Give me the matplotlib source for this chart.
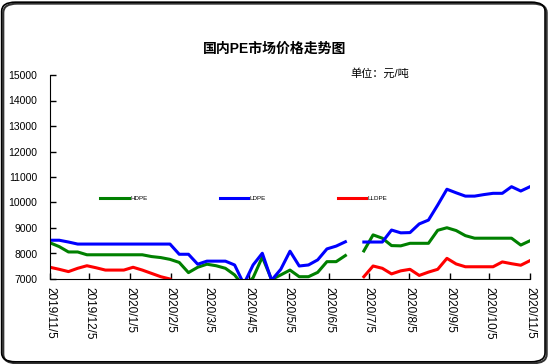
import numpy as np
import pandas as pd
import matplotlib
matplotlib.use("Agg")
import matplotlib.pyplot as plt
import matplotlib.dates as mdates
from matplotlib.patches import FancyBboxPatch

plt.rcParams['font.family'] = ['Liberation Sans', 'Noto Sans CJK SC', 'DejaVu Sans']

nan = np.nan
# weekly prices, 2019/11/5 - 2020/11/5 (yuan/ton)
hdpe = [8420, 8270, 8060, 8060, 7950, 7950, 7950, 7950, 7950, 7950, 7950, 7880, 7840, 7770,
        7650, 7250, 7460, 7580, 7520, 7420, 7160, 6700, 7050, 7860, 6980, 7160, 7350, 7090,
        7090, 7260, 7680, 7680, 7920, nan, 8100, 8730, 8600, 8310, 8300, 8400, 8400, 8400,
        8910, 9010, 8900, 8700, 8600, 8600, 8600, 8600, 8600, 8330, 8500]
ldpe = [8520, 8520, 8450, 8370, 8370, 8370, 8370, 8370, 8370, 8370, 8370, 8370, 8370, 8370,
        7970, 7970, 7580, 7700, 7700, 7700, 7550, 6800, 7550, 8010, 6950, 7380, 8090, 7510,
        7550, 7750, 8180, 8290, 8460, nan, 8450, 8450, 8450, 8920, 8810, 8820, 9160, 9310,
        9900, 10520, 10380, 10250, 10250, 10310, 10360, 10360, 10620, 10450, 10620]
lldpe = [7460, 7380, 7290, 7420, 7520, 7440, 7350, 7350, 7350, 7460, 7350, 7220, 7090, 7000,
         nan, nan, nan, nan, nan, nan, nan, nan, nan, nan, nan, nan, nan, nan,
         nan, nan, nan, nan, nan, nan, 7090, 7510, 7420, 7200, 7320, 7380, 7140, 7270,
         7380, 7810, 7590, 7480, 7480, 7480, 7480, 7670, 7600, 7540, 7720]

dates = pd.date_range('2019-11-05', '2020-11-05', periods=len(hdpe))
tick_dates = pd.date_range('2019-11-01', '2020-11-05', freq='MS') + pd.Timedelta(days=4)

fig = plt.figure(figsize=(5.5, 3.64), dpi=100)
ax = fig.add_axes([50 / 550, 1 - 279 / 364, 480 / 550, 204 / 364])

ax.plot(dates, hdpe, color='#008000', lw=2.2, label='HDPE')
ax.plot(dates, ldpe, color='#0000ff', lw=2.2, label='LDPE')
ax.plot(dates, lldpe, color='#ff0000', lw=2.2, label='LLDPE')

ax.set_ylim(7000, 15000)
ax.set_yticks(np.arange(7000, 15001, 1000))
ax.set_xlim(dates[0], dates[-1])
ax.set_xticks(tick_dates)
ax.xaxis.set_major_formatter(
    matplotlib.ticker.FuncFormatter(lambda v, p: '{0.year}/{0.month}/{0.day}'.format(mdates.num2date(v))))
ax.tick_params(axis='both', direction='in', length=4, width=1, labelsize=7.5)
ax.tick_params(axis='y', pad=9)
ax.tick_params(axis='x', pad=6, labelrotation=-90, labelsize=8.5)
ax.spines['top'].set_visible(False)
ax.spines['right'].set_visible(False)

ax.legend(loc='center', bbox_to_anchor=(0.404, 0.397), ncol=3, frameon=False, fontsize=4.5,
          handlelength=4.5, handletextpad=0.3, columnspacing=11.5)

fig.text(0.5, 1 - 49 / 364, '国内PE市场价格走势图', ha='center', va='center',
         fontsize=10, fontweight='bold')
fig.text(350 / 550, 1 - 73 / 364, '单位：元/吨', ha='left', va='center', fontsize=8)

# rounded frame with a little shadow on the bottom/right
shadow = FancyBboxPatch((0.006, 0.002), 0.988, 0.988, boxstyle='round,pad=0,rounding_size=0.025',
                        transform=fig.transFigure, fill=False, ec='#333333', lw=1.5)
border = FancyBboxPatch((0.003, 0.006), 0.988, 0.988, boxstyle='round,pad=0,rounding_size=0.025',
                        transform=fig.transFigure, fill=False, ec='black', lw=1.2)
fig.patches.append(shadow)
fig.patches.append(border)

fig.savefig('out.png', dpi=100)
